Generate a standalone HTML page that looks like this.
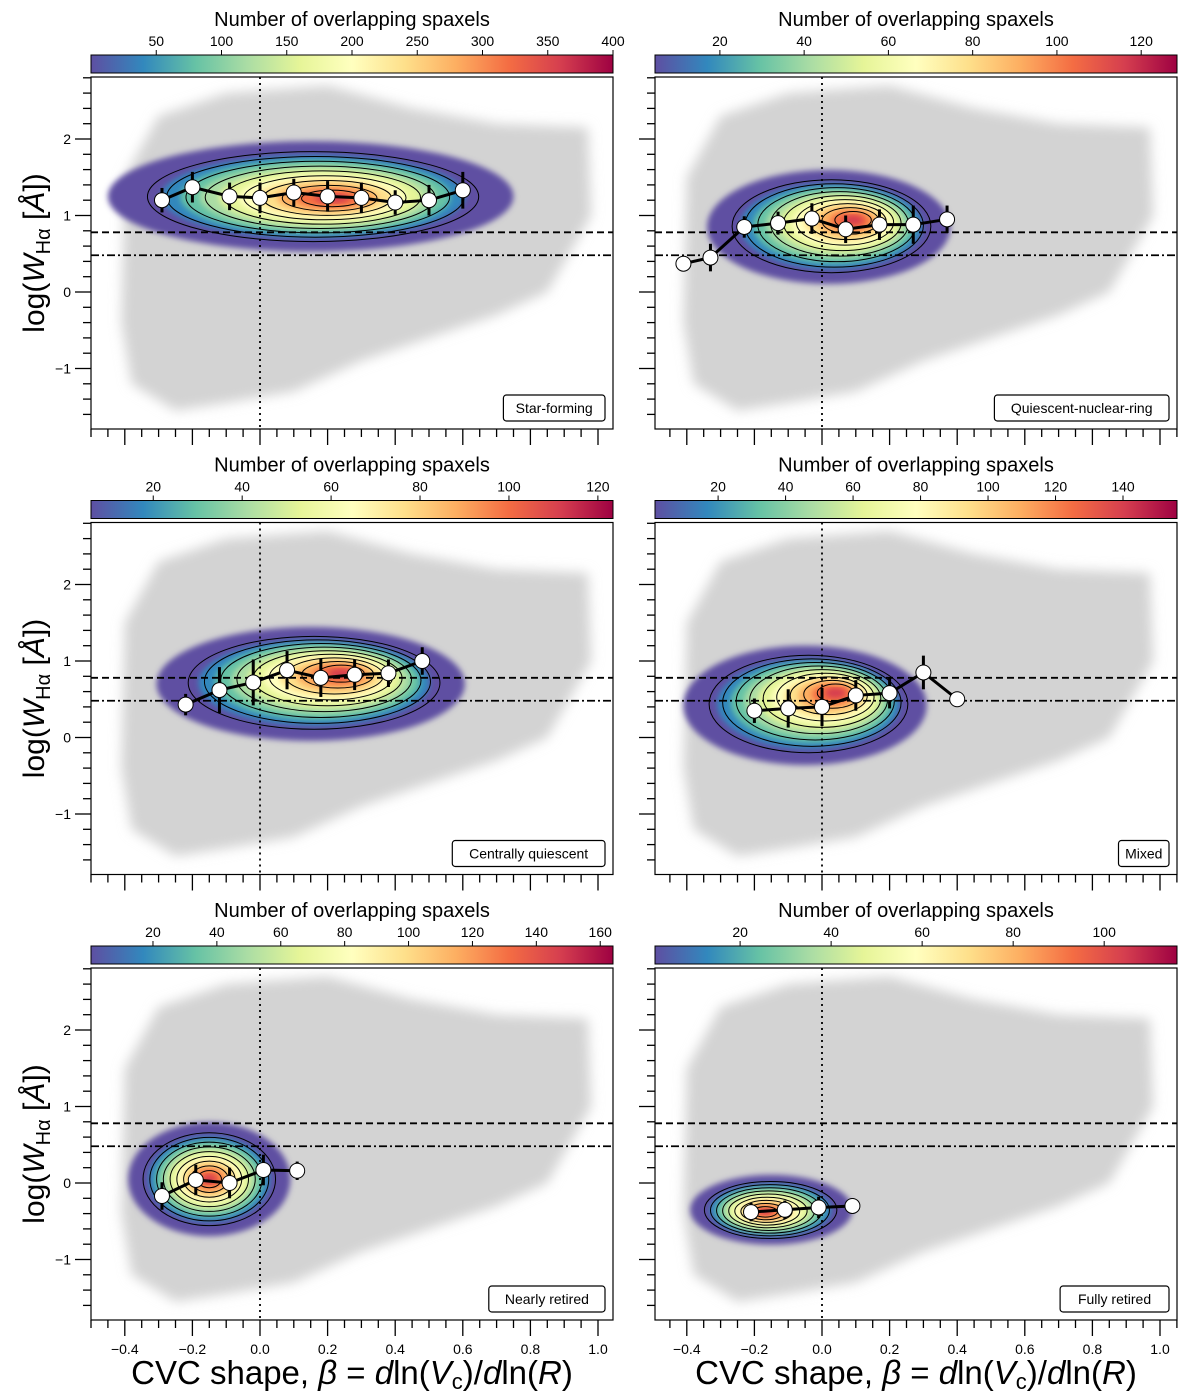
<!DOCTYPE html>
<html><head><meta charset="utf-8"><style>
body{margin:0;background:#fff}
svg{display:block;font-family:"Liberation Sans","DejaVu Sans",sans-serif}
</style></head><body>
<svg id="fig" width="1200" height="1400" viewBox="0 0 1200 1400" xmlns="http://www.w3.org/2000/svg">
<defs>
<linearGradient id="spec" x1="0" x2="1" y1="0" y2="0">
<stop offset="0" stop-color="#5e4fa2"/><stop offset="0.1" stop-color="#3288bd"/><stop offset="0.2" stop-color="#66c2a5"/><stop offset="0.3" stop-color="#abdda4"/><stop offset="0.4" stop-color="#e6f598"/><stop offset="0.5" stop-color="#ffffbf"/><stop offset="0.6" stop-color="#fee08b"/><stop offset="0.7" stop-color="#fdae61"/><stop offset="0.8" stop-color="#f46d43"/><stop offset="0.9" stop-color="#d53e4f"/><stop offset="1" stop-color="#9e0142"/>
</linearGradient>
<filter id="blur3"><feGaussianBlur stdDeviation="3"/></filter>
<filter id="blur6"><feGaussianBlur stdDeviation="6"/></filter>
</defs>
</svg>
<script>
// ---- data ----
const panelNames = ["Star-forming","Quiescent-nuclear-ring","Centrally quiescent","Mixed","Nearly retired","Fully retired"];
const cbTicks1 = [50,100,150,200,250,300,350,400];
const cbTicks2 = [20,40,60,80,100,120];
const cbTicks3 = [20,40,60,80,100,120];
const cbTicks4 = [20,40,60,80,100,120,140];
const cbTicks5 = [20,40,60,80,100,120,140,160];
const cbTicks6 = [20,40,60,80,100];
const cbRange = [[0,400],[4.6,128.5],[6,123.4],[1.3,156],[0.6,164],[1.3,116]];
const medX1 = [-0.29,-0.2,-0.09,0.0,0.1,0.2,0.3,0.4,0.5,0.6];
const medY1 = [1.2,1.37,1.25,1.23,1.3,1.25,1.23,1.17,1.2,1.33];
const medE1 = [0.16,0.2,0.18,0.2,0.18,0.2,0.2,0.16,0.2,0.24];
const medX2 = [-0.41,-0.33,-0.23,-0.13,-0.03,0.07,0.17,0.27,0.37];
const medY2 = [0.37,0.45,0.85,0.9,0.96,0.82,0.88,0.88,0.95];
const medE2 = [0.1,0.18,0.14,0.15,0.2,0.18,0.2,0.25,0.18];
const medX3 = [-0.22,-0.12,-0.02,0.08,0.18,0.28,0.38,0.48];
const medY3 = [0.43,0.62,0.72,0.88,0.78,0.82,0.84,1.0];
const medE3 = [0.14,0.3,0.3,0.25,0.25,0.2,0.18,0.18];
const medX4 = [-0.2,-0.1,0.0,0.1,0.2,0.3,0.4];
const medY4 = [0.35,0.38,0.4,0.55,0.58,0.85,0.5];
const medE4 = [0.16,0.25,0.25,0.2,0.2,0.22,0.1];
const medX5 = [-0.29,-0.19,-0.09,0.01,0.11];
const medY5 = [-0.17,0.04,0.0,0.17,0.16];
const medE5 = [0.18,0.2,0.2,0.2,0.12];
const medX6 = [-0.21,-0.11,-0.01,0.09];
const medY6 = [-0.38,-0.35,-0.32,-0.3];
const medE6 = [0.12,0.12,0.14,0.1];
// blob: center x, center y, rx, ry (data units)
const blobs = [[0.15,1.25,0.5,0.6],[0.02,0.85,0.3,0.62],[0.15,0.7,0.38,0.62],[-0.05,0.42,0.3,0.65],[-0.15,0.05,0.2,0.62],[-0.15,-0.35,0.2,0.38]];
const peaks = [[0.22,1.22],[0.1,0.95],[0.25,0.85],[0.05,0.6],[-0.15,0.05],[-0.17,-0.38]];
const grayCloud = [[-0.4,1.5],[-0.3,2.3],[-0.1,2.6],[0.2,2.7],[0.45,2.4],[0.7,2.2],[0.97,2.15],[0.98,1.0],[0.85,0.0],[0.7,-0.3],[0.5,-0.6],[0.3,-0.9],[0.1,-1.3],[-0.1,-1.45],[-0.25,-1.55],[-0.38,-1.2],[-0.41,-0.4]];

const allTicks=[cbTicks1,cbTicks2,cbTicks3,cbTicks4,cbTicks5,cbTicks6];
const meds=[[medX1,medY1,medE1],[medX2,medY2,medE2],[medX3,medY3,medE3],[medX4,medY4,medE4],[medX5,medY5,medE5],[medX6,medY6,medE6]];
const cmap=["#5e4fa2","#3288bd","#66c2a5","#abdda4","#e6f598","#ffffbf","#fee08b","#fdae61","#f46d43","#d53e4f","#9e0142"];
const svg=document.getElementById('fig');
const NS="http://www.w3.org/2000/svg";
function mk(tag,attrs,parent,text){const e=document.createElementNS(NS,tag);for(const k in attrs)e.setAttribute(k,attrs[k]);if(text!==undefined)e.textContent=text;(parent||svg).appendChild(e);return e;}

for(let p=0;p<6;p++){
  const col=p%2,row=Math.floor(p/2);
  const L=col?655:91,R=col?1177:613;
  const T=77+445.5*row,B=429+445.5*row;
  const x0=col?822:260, ux=338;
  const y0=292+445.5*row, uy=76.5;
  const sx=v=>x0+v*ux, sy=v=>y0-v*uy;
  const g=mk('g',{});
  
  
  // colorbar
  const cbT=55+445.5*row;
  const cb=mk('rect',{x:L,y:cbT,width:R-L,height:18,fill:'url(#spec)',stroke:'#000','stroke-width':1},g);
  
  
  const [vmin,vmax]=cbRange[p];
  allTicks[p].forEach(t=>{
    const x=L+(t-vmin)/(vmax-vmin)*(R-L);
    mk('line',{x1:x,x2:x,y1:cbT,y2:cbT-5,stroke:'#000'},g);
    const tl=mk('text',{x:x,y:cbT-9,'font-size':14,'text-anchor':'middle'},g,String(t));
    
    
  });
  const ct=mk('text',{x:(L+R)/2,y:cbT-29,'font-size':20,'text-anchor':'middle'},g,'Number of overlapping spaxels');
  
  
  // clip
  const cid='clip'+p;
  const cp=mk('clipPath',{id:cid},g);mk('rect',{x:L,y:T,width:R-L,height:B-T},cp);
  const inner=mk('g',{'clip-path':`url(#${cid})`},g);
  // gray cloud
  const gp=mk('polygon',{points:grayCloud.map(q=>sx(q[0])+','+sy(q[1])).join(' '),fill:'#d3d3d3',filter:'url(#blur6)'},inner);
  
  
  // blob
  const [bx,by,rx,ry]=blobs[p];const [px,py]=peaks[p];
  const N=10;
  for(let i=0;i<N;i++){
    const f=1-i/N;
    const cx=bx+(px-bx)*(i/N), cy=by+(py-by)*(i/N);
    const sc=i==0?1.2:f;
    const e=mk('ellipse',{cx:sx(cx),cy:sy(cy),rx:rx*ux*sc,ry:ry*uy*sc,fill:cmap[Math.min(10,Math.round(i*1.05))],filter:'url(#blur3)'},inner);
    
    
  }
  for(let i=1;i<N;i++){
    const f=1.08-i/N;
    const cx=bx+(px-bx)*(i/N), cy=by+(py-by)*(i/N);
    mk('ellipse',{cx:sx(cx),cy:sy(cy),rx:rx*ux*f,ry:ry*uy*f,fill:'none',stroke:'#000','stroke-width':1},inner);
  }
  // reference lines
  mk('line',{x1:L,x2:R,y1:sy(0.78),y2:sy(0.78),stroke:'#000','stroke-width':1.8,'stroke-dasharray':'7,4'},inner);
  mk('line',{x1:L,x2:R,y1:sy(0.48),y2:sy(0.48),stroke:'#000','stroke-width':1.8,'stroke-dasharray':'8,3,2,3'},inner);
  mk('line',{x1:sx(0),x2:sx(0),y1:T,y2:B,stroke:'#000','stroke-width':1.8,'stroke-dasharray':'2,4'},inner);
  // medians
  const [mx,my,me]=meds[p];
  mk('polyline',{points:mx.map((v,i)=>sx(v)+','+sy(my[i])).join(' '),fill:'none',stroke:'#000','stroke-width':3},inner);
  mx.forEach((v,i)=>{
    mk('line',{x1:sx(v),x2:sx(v),y1:sy(my[i]-me[i]),y2:sy(my[i]+me[i]),stroke:'#000','stroke-width':3},inner);
    const c=mk('circle',{cx:sx(v),cy:sy(my[i]),r:7.5,fill:'#fff',stroke:'#000','stroke-width':1},inner);
    
    
  });
  // frame
  mk('rect',{x:L,y:T,width:R-L,height:B-T,fill:'none',stroke:'#000','stroke-width':1.2},g);
  // x ticks
  for(let k=-10;k<=21;k++){
    const v=k*0.05,x=sx(v);if(x<L||x>R)continue;
    const major=k%4==0;
    mk('line',{x1:x,x2:x,y1:B,y2:B+(major?16:8),stroke:'#000','stroke-width':1.3},g);
    if(major&&row==2){const t=mk('text',{x:x,y:B+34,'font-size':14,'text-anchor':'middle'},g,(Math.round(v*10)/10).toFixed(1).replace('-','\u2212'));
      }
  }
  // y ticks
  for(let k=-9;k<=14;k++){
    const v=k*0.2,y=sy(v);if(y<T||y>B)continue;
    const major=k%5==0;
    mk('line',{x1:L,x2:L-(major?16:8),y1:y,y2:y,stroke:'#000','stroke-width':1.3},g);
    if(major&&col==0){const t=mk('text',{x:L-20,y:y+5,'font-size':14,'text-anchor':'end'},g,String(Math.round(v)).replace('-','\u2212'));
      }
  }
  // label box
  const lw=panelNames[p].length*7.3+14;
  const lb=mk('rect',{x:R-8-lw,y:B-34,width:lw,height:26,rx:3,fill:'#fff',stroke:'#000','stroke-width':1.2},g);
  
  
  mk('text',{x:R-8-lw/2,y:B-16,'font-size':14,'text-anchor':'middle'},g,panelNames[p]);
  if(col==0){
    const yl=mk('text',{x:0,y:0,'font-size':30,'text-anchor':'middle',transform:`translate(44,${(T+B)/2}) rotate(-90)`},g);
    
    
    yl.innerHTML='log(<tspan font-style="italic">W</tspan><tspan font-size="20" dy="6">H\u03b1</tspan><tspan dy="-6"> [</tspan><tspan font-style="italic">\u00c5</tspan>])';
  }
  if(row==2){
    const xl=mk('text',{x:(L+R)/2,y:1384,'font-size':33,'text-anchor':'middle'},g);
    
    
    xl.innerHTML='CVC shape, <tspan font-style="italic">\u03b2</tspan> = <tspan font-style="italic">d</tspan>ln(<tspan font-style="italic">V</tspan><tspan font-size="22" dy="5">c</tspan><tspan dy="-5">)/</tspan><tspan font-style="italic">d</tspan>ln(<tspan font-style="italic">R</tspan>)';
  }
}
</script>
</body></html>
